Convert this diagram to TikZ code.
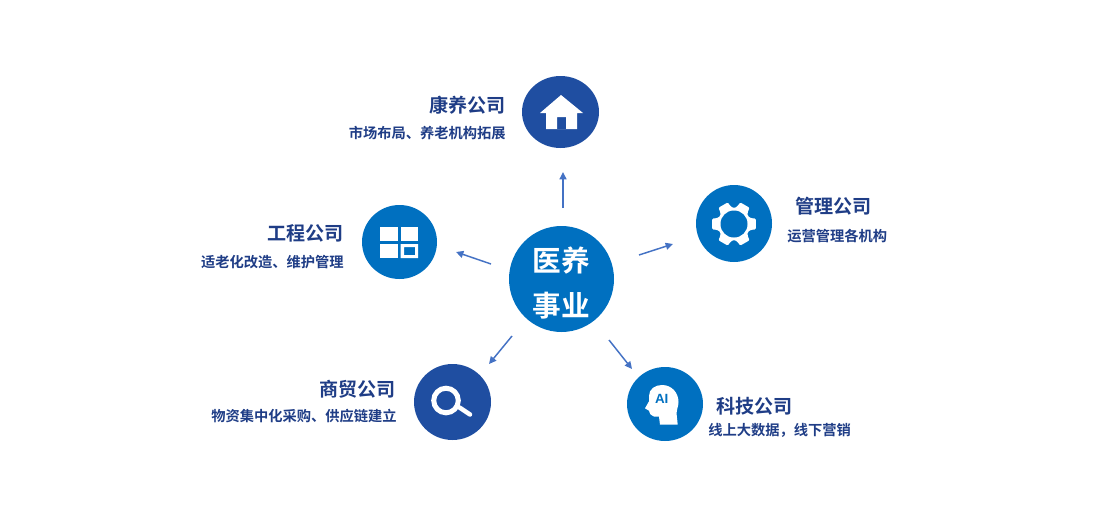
\documentclass[tikz,border=0pt]{standalone}
\usepackage{fontspec}
\setmainfont{Liberation Sans}
\newfontfamily\cjk{Noto Sans CJK SC}[BoldFont={Noto Sans CJK SC Bold}]
\usetikzlibrary{arrows.meta,shapes.geometric}
\definecolor{navyc}{HTML}{1F4EA1}
\definecolor{bluec}{HTML}{0070C0}
\definecolor{textc}{HTML}{1F3D86}
\definecolor{arrowc}{HTML}{4472C4}
\tikzset{
  x=0.75pt,y=-0.75pt,
  disc/.style={ellipse,inner sep=0pt,outer sep=0pt},
  title/.style={font=\cjk\bfseries\fontsize{14.3pt}{16pt}\selectfont,text=textc,inner sep=0pt},
  subtitle/.style={font=\cjk\bfseries\fontsize{10.7pt}{12pt}\selectfont,text=textc,inner sep=0pt},
  link/.style={draw=arrowc,line width=1.1pt,-{Triangle[length=5.5pt,width=5.2pt]}},
  icon/.style={fill=white,draw=none},
}
\begin{document}
\begin{tikzpicture}
\useasboundingbox (0,0) rectangle (1110,521);
% discs
\node[disc,fill=bluec,minimum width=105*0.75pt,minimum height=106*0.75pt] (center) at (561.5,279) {};
\node[inner sep=0pt,align=center,text=white,font=\cjk\bfseries\fontsize{21.5pt}{33.75pt}\selectfont] (centerlabel) at (561.5,283) {医养\\事业};
\node[disc,fill=navyc,minimum width=77*0.75pt,minimum height=72*0.75pt] (home) at (560.5,112) {};
\node[disc,fill=bluec,minimum width=76*0.75pt,minimum height=77*0.75pt] (gear) at (734,223.5) {};
\node[disc,fill=bluec,minimum width=75*0.75pt,minimum height=74*0.75pt] (eng) at (399.5,242) {};
\node[disc,fill=navyc,minimum width=77*0.75pt,minimum height=76*0.75pt] (search) at (452.5,402) {};
\node[disc,fill=bluec,minimum width=76*0.75pt,minimum height=74*0.75pt] (ai) at (665,404) {};
% arrows
\coordinate (a1s) at (563,208); \coordinate (a1e) at (563,172);
\coordinate (a2s) at (639,255); \coordinate (a2e) at (673,244);
\coordinate (a3s) at (491,264); \coordinate (a3e) at (456,252);
\coordinate (a4s) at (512,336); \coordinate (a4e) at (489,364);
\coordinate (a5s) at (609,340); \coordinate (a5e) at (632,369);
\draw[link] (a1s) -- (a1e);
\draw[link] (a2s) -- (a2e);
\draw[link] (a3s) -- (a3e);
\draw[link] (a4s) -- (a4e);
\draw[link] (a5s) -- (a5e);
% labels
\node[title,anchor=east] (t1) at (506,105) {康养公司};
\node[subtitle,anchor=east] (s1) at (506,133.5) {市场布局、养老机构拓展};
\node[title,anchor=west] (t2) at (795,206) {管理公司};
\node[subtitle,anchor=west] (s2) at (787,236.5) {运营管理各机构};
\node[title,anchor=east] (t3) at (344,233) {工程公司};
\node[subtitle,anchor=east] (s3) at (344,262) {适老化改造、维护管理};
\node[title,anchor=east] (t4) at (396,389) {商贸公司};
\node[subtitle,anchor=east] (s4) at (397,416.5) {物资集中化采购、供应链建立};
\node[title,anchor=west] (t5) at (716,406) {科技公司};
\node[subtitle,anchor=west] (s5) at (708,430) {线上大数据，线下营销};
% house icon
\fill[icon,even odd rule] (561,95) -- (583,113) -- (577,113) -- (577,129) -- (546,129) -- (546,113) -- (540,113) -- cycle
  (557,117) rectangle (566,129);
% gear icon
\begin{scope}[shift={(734,224)}]
\fill[icon,rounded corners=0.9pt]
  (-19:18) -- (-14:22.5) -- (14:22.5) -- (19:18) -- (30:15.8) -- (41:18)
  -- (46:22.5) -- (74:22.5) -- (79:18) -- (90:15.8) -- (101:18)
  -- (106:22.5) -- (134:22.5) -- (139:18) -- (150:15.8) -- (161:18)
  -- (166:22.5) -- (194:22.5) -- (199:18) -- (210:15.8) -- (221:18)
  -- (226:22.5) -- (254:22.5) -- (259:18) -- (270:15.8) -- (281:18)
  -- (286:22.5) -- (314:22.5) -- (319:18) -- (330:15.8) -- cycle;
\fill[bluec] (0,0) circle[radius=13.5];
\end{scope}
% grid icon
\begin{scope}[shift={(399,242)}]
\fill[icon] (-19,-15) rectangle (-1.5,-1);
\fill[icon] (1.5,-15) rectangle (19,-1);
\fill[icon] (-19,2) rectangle (-1.5,16);
\fill[icon,even odd rule] (1.5,2) rectangle (19,16) (5,5) rectangle (16,13);
\end{scope}
% magnifier icon
\begin{scope}[shift={(452.5,402)}]
\draw[white,line width=3.75pt] (-6.5,-1.5) circle[radius=12.3];
\draw[white,line width=3.4pt,line cap=round] (7,5.5) -- (17.5,12.5);
\end{scope}
% AI head icon
\begin{scope}[shift={(665,404)}]
\fill[icon] (-5,20.7) -- (-6,12.7) -- (-11,12.5) .. controls (-14,12) and (-15,10) .. (-16,6.7) -- (-20,4.3) -- (-16,-2.7) -- (-16,-8) .. controls (-16,-15) and (-10,-19) .. (-3,-19) .. controls (7,-19) and (13.5,-11) .. (13.5,-2) .. controls (13.5,3) and (11.5,5) .. (11.5,9) -- (12.7,20.7) -- cycle;
\node[inner sep=0pt,text=bluec,font=\bfseries\fontsize{10pt}{11pt}\selectfont] (ailabel) at (-3.3,-5) {AI};
\end{scope}
\end{tikzpicture}
\end{document}
